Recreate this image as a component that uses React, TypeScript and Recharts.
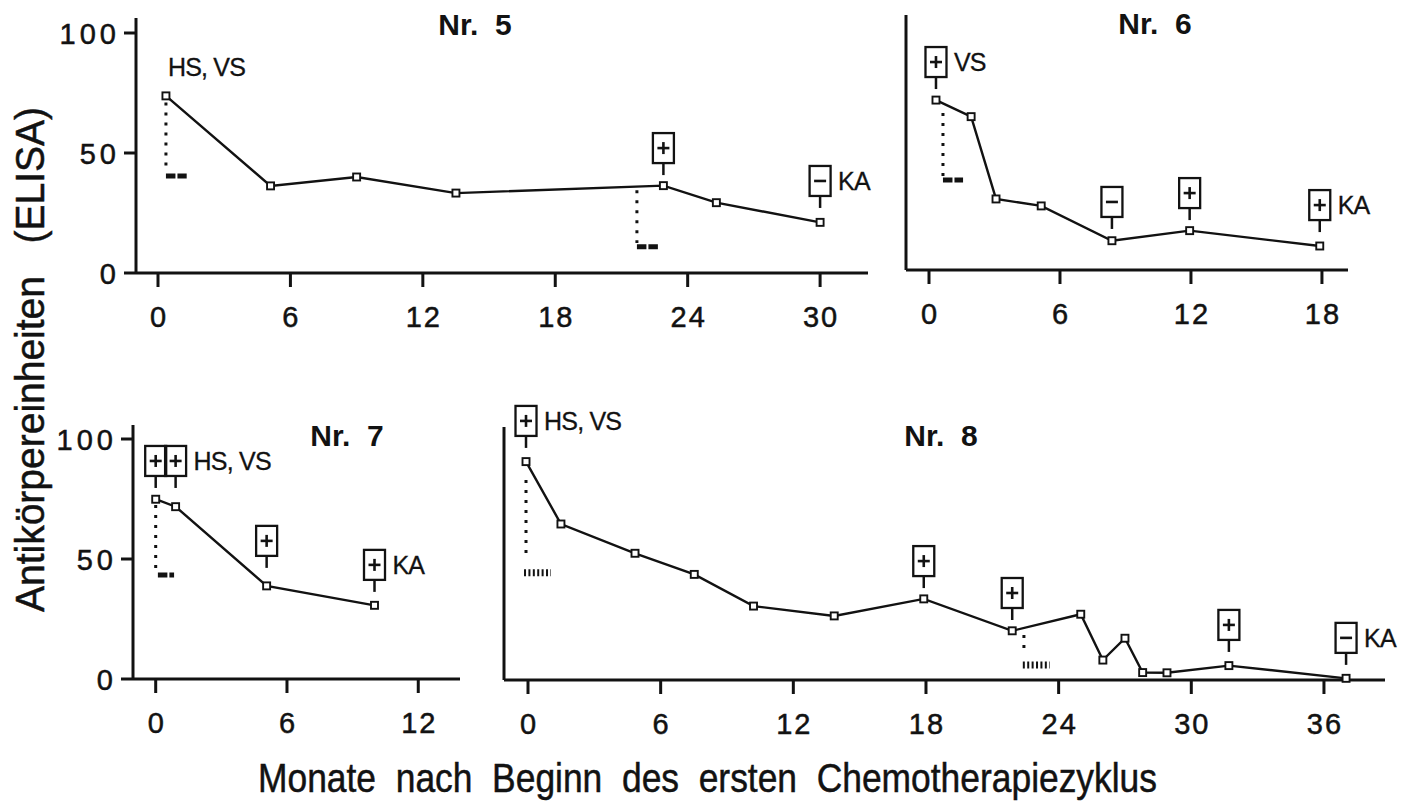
import React from 'react'
import { ComposedChart, Line, XAxis, YAxis, ReferenceLine, ReferenceDot } from 'recharts'

const FONT = '"Liberation Sans", Arial, Helvetica, sans-serif'
const INK = '#121212'

// ---------------------------------------------------------------------------
// Data (months after first chemotherapy cycle, antibody units)
// ---------------------------------------------------------------------------

const months5 = [0.36, 5.1, 9.0, 13.5, 22.9, 25.3, 30.0]
const values5 = [73.8, 36.3, 40.0, 33.3, 36.4, 29.3, 21.1]

const months6 = [0.32, 1.93, 3.07, 5.14, 8.38, 11.94, 17.9]
const values6 = [70.8, 63.9, 29.6, 26.7, 12.2, 16.4, 10.0]

const months7 = [0, 0.91, 5.07, 10.0]
const values7 = [74.9, 71.8, 38.8, 30.7]

const months8 = [-0.09, 1.49, 4.84, 7.52, 10.2, 13.85, 17.9, 21.9, 25.0, 26.0, 27.0, 27.8, 28.9, 31.7, 37.0]
const values8 = [91.0, 65.0, 52.8, 44.0, 30.8, 26.7, 33.8, 20.5, 27.4, 8.3, 17.4, 3.1, 3.0, 6.0, 0.7]

// box markers: month, level (foot of the stem), sign, note
const markers5 = [
  { month: 0.45, level: 85.8, sign: '', note: 'HS, VS' },
  { month: 22.9, level: 40.8, sign: '+', note: '' },
  { month: 30.0, level: 27.1, sign: '-', note: 'KA' },
]
const markers6 = [
  { month: 0.32, level: 75.4, sign: '+', note: 'VS' },
  { month: 8.38, level: 17.1, sign: '-', note: '' },
  { month: 11.94, level: 20.8, sign: '+', note: '' },
  { month: 17.9, level: 15.8, sign: '+', note: 'KA' },
]
const markers7 = [
  { month: 0, level: 79.6, sign: '+', note: '' },
  { month: 0.91, level: 79.6, sign: '+', note: 'HS, VS' },
  { month: 5.07, level: 46.3, sign: '+', note: '' },
  { month: 10.0, level: 36.3, sign: '+', note: 'KA' },
]
const markers8 = [
  { month: -0.09, level: 96.7, sign: '+', note: 'HS, VS' },
  { month: 17.9, level: 38.3, sign: '+', note: '' },
  { month: 21.9, level: 25.0, sign: '+', note: '' },
  { month: 31.7, level: 11.7, sign: '+', note: '' },
  { month: 37.0, level: 6.3, sign: '-', note: 'KA' },
]

// therapy courses: dotted drop from `from` to `to`, then a bar at `barLevel`
const courses5 = [
  { month: 0.36, from: 71, to: 42, barStart: 0.36, barEnd: 1.3, barLevel: 40.4, bar: 'dash' },
  { month: 21.7, from: 34.5, to: 12.5, barStart: 21.7, barEnd: 22.65, barLevel: 10.9, bar: 'dash' },
]
const courses6 = [
  { month: 0.64, from: 65.4, to: 39, barStart: 0.64, barEnd: 1.56, barLevel: 37.5, bar: 'dash' },
]
const courses7 = [
  { month: 0, from: 72.5, to: 45, barStart: 0.1, barEnd: 0.84, barLevel: 43.3, bar: 'dash' },
]
const courses8 = [
  { month: -0.09, from: 83.3, to: 50.8, barStart: -0.18, barEnd: 1.04, barLevel: 44.7, bar: 'hatch' },
  { month: 22.43, from: 18.7, to: 11.7, barStart: 22.38, barEnd: 23.6, barLevel: 6.25, bar: 'hatch' },
]

const xTicks5 = [0, 6, 12, 18, 24, 30]
const xTicks6 = [0, 6, 12, 18]
const xTicks7 = [0, 6, 12]
const xTicks8 = [0, 6, 12, 18, 24, 30, 36]
const yTicks = [0, 50, 100]

// ---------------------------------------------------------------------------
// Layout: pixel anchors of each panel
// ---------------------------------------------------------------------------

const PX_PER_UNIT = 2.4

const layout5 = { left: 0, top: 0, width: 880, height: 345, l: 136, t: 18, r: 868, b: 273, zeroX: 158, ppm: 22.07, yLabels: true }
const layout6 = { left: 880, top: 0, width: 520, height: 345, l: 906, t: 15, r: 1348, b: 270, zeroX: 929, ppm: 21.83, yLabels: false }
const layout7 = { left: 0, top: 400, width: 480, height: 345, l: 133, t: 425, r: 460, b: 679, zeroX: 155.7, ppm: 21.88, yLabels: true }
const layout8 = { left: 480, top: 400, width: 929, height: 345, l: 504, t: 427, r: 1385, b: 680, zeroX: 528, ppm: 22.11, yLabels: false }

// slight outline so the type has the weight of the printed original
const inked = { stroke: INK, strokeWidth: 0.5 }

// ---------------------------------------------------------------------------

function XTick({ x, y, payload }: any) {
  return (
    <text x={x + 1} y={y + 40} textAnchor="middle" fontSize={29} fontFamily={FONT} fill={INK} letterSpacing={2} style={inked}>
      {payload.value}
    </text>
  )
}

function YTick({ x, y, payload }: any) {
  return (
    <text x={x + 2} y={y + 10.5} textAnchor="end" fontSize={29} fontFamily={FONT} fill={INK} letterSpacing={4} style={inked}>
      {payload.value}
    </text>
  )
}

function SquareDot(props: any) {
  const { cx, cy, index } = props
  if (cx == null || cy == null) return null
  return <rect key={`sq${index}`} x={cx - 3.5} y={cy - 3.5} width={7} height={7} fill="#fff" stroke={INK} strokeWidth={1.9} />
}

function BoxMarker({ cx, cy, sign, note }: any) {
  if (!sign) {
    return (
      <text x={cx} y={cy + 9} fontSize={25} fontFamily={FONT} fill={INK} letterSpacing={-0.8} style={{ stroke: INK, strokeWidth: 0.3 }}>
        {note}
      </text>
    )
  }
  const top = cy - 12 - 30
  const mid = top + 15
  return (
    <g>
      <line x1={cx} y1={cy} x2={cx} y2={cy - 12} stroke={INK} strokeWidth={2.5} />
      <rect x={cx - 10.5} y={top} width={21} height={30} fill="none" stroke={INK} strokeWidth={2.3} />
      <line x1={cx - 6} y1={mid} x2={cx + 6} y2={mid} stroke={INK} strokeWidth={2.6} />
      {sign === '+' && <line x1={cx} y1={mid - 6} x2={cx} y2={mid + 6} stroke={INK} strokeWidth={2.6} />}
      {note && (
        <text x={cx + 18} y={mid + 9} fontSize={25} fontFamily={FONT} fill={INK} letterSpacing={-0.8} style={{ stroke: INK, strokeWidth: 0.3 }}>
          {note}
        </text>
      )}
    </g>
  )
}

function Panel({ lay, months, values, markers, courses, xTicks }: any) {
  const data = months.map((m: number, i: number) => ({ month: m, value: values[i] }))
  const xDomain = [(lay.l - lay.zeroX) / lay.ppm, (lay.r - lay.zeroX) / lay.ppm]
  const yMax = (lay.b - lay.t) / PX_PER_UNIT
  const axisStyle = { stroke: INK, strokeWidth: 3 }

  return (
    <div style={{ position: 'absolute', left: lay.left, top: lay.top }}>
      <ComposedChart
        width={lay.width}
        height={lay.height}
        data={data}
        margin={{ top: lay.t - lay.top, right: lay.left + lay.width - lay.r, bottom: 0, left: 0 }}
      >
        <XAxis
          dataKey="month"
          type="number"
          domain={xDomain}
          ticks={xTicks}
          interval={0}
          height={lay.top + lay.height - lay.b}
          axisLine={axisStyle}
          tickLine={axisStyle}
          tickSize={14}
          tickMargin={0}
          tick={<XTick />}
        />
        <YAxis
          type="number"
          domain={[0, yMax]}
          ticks={yTicks}
          interval={0}
          width={lay.l - lay.left}
          axisLine={axisStyle}
          tickLine={axisStyle}
          tickSize={12}
          tickMargin={6}
          tick={lay.yLabels ? <YTick /> : false}
        />

        {/* dotted drop + dash / hatch bar */}
        {courses.map((c: any, i: number) => (
          <ReferenceLine
            key={`drop${i}`}
            segment={[{ x: c.month, y: c.from }, { x: c.month, y: c.to }]}
            stroke={INK}
            strokeWidth={3}
            strokeDasharray="3 7"
            ifOverflow="visible"
          />
        ))}
        {courses.map((c: any, i: number) => (
          <ReferenceLine
            key={`bar${i}`}
            segment={[{ x: c.barStart, y: c.barLevel }, { x: c.barEnd, y: c.barLevel }]}
            stroke={INK}
            strokeWidth={c.bar === 'hatch' ? 7 : 5}
            strokeDasharray={c.bar === 'hatch' ? '2 2.4' : '9.5 2'}
            ifOverflow="visible"
          />
        ))}

        <Line
          dataKey="value"
          stroke={INK}
          strokeWidth={2.4}
          dot={<SquareDot />}
          activeDot={false}
          isAnimationActive={false}
        />

        {markers.map((mk: any, i: number) => (
          <ReferenceDot
            key={`mk${i}`}
            x={mk.month}
            y={mk.level}
            ifOverflow="visible"
            shape={(p: any) => <BoxMarker cx={p.cx} cy={p.cy} sign={mk.sign} note={mk.note} />}
          />
        ))}
      </ComposedChart>
    </div>
  )
}

export default function App() {
  const title = { fontSize: 30, fontWeight: 700, fontFamily: FONT, fill: INK, whiteSpace: 'pre' as const }
  return (
    <div style={{ position: 'absolute', left: 0, top: 0, width: 1409, height: 803, background: '#fff', overflow: 'hidden' }}>
      <Panel lay={layout5} months={months5} values={values5} markers={markers5} courses={courses5} xTicks={xTicks5} />
      <Panel lay={layout6} months={months6} values={values6} markers={markers6} courses={courses6} xTicks={xTicks6} />
      <Panel lay={layout7} months={months7} values={values7} markers={markers7} courses={courses7} xTicks={xTicks7} />
      <Panel lay={layout8} months={months8} values={values8} markers={markers8} courses={courses8} xTicks={xTicks8} />

      <svg width={1409} height={803} style={{ position: 'absolute', left: 0, top: 0, pointerEvents: 'none' }}>
        <text x={475} y={35} textAnchor="middle" style={title}>{'Nr.  5'}</text>
        <text x={1155} y={34} textAnchor="middle" style={title}>{'Nr.  6'}</text>
        <text x={347} y={446} textAnchor="middle" style={title}>{'Nr.  7'}</text>
        <text x={941} y={446} textAnchor="middle" style={title}>{'Nr.  8'}</text>

        <text
          transform="translate(44,612) rotate(-90)"
          fontSize={41}
          fontFamily={FONT}
          fill={INK}
          textLength={505}
          lengthAdjust="spacingAndGlyphs"
          style={{ whiteSpace: 'pre', ...inked }}
        >
          {'Antikörpereinheiten   (ELISA)'}
        </text>
        <text
          x={258}
          y={792}
          fontSize={41}
          fontFamily={FONT}
          fill={INK}
          textLength={899}
          lengthAdjust="spacingAndGlyphs"
          style={{ whiteSpace: 'pre', ...inked }}
        >
          {'Monate  nach  Beginn  des  ersten  Chemotherapiezyklus'}
        </text>
      </svg>
    </div>
  )
}
